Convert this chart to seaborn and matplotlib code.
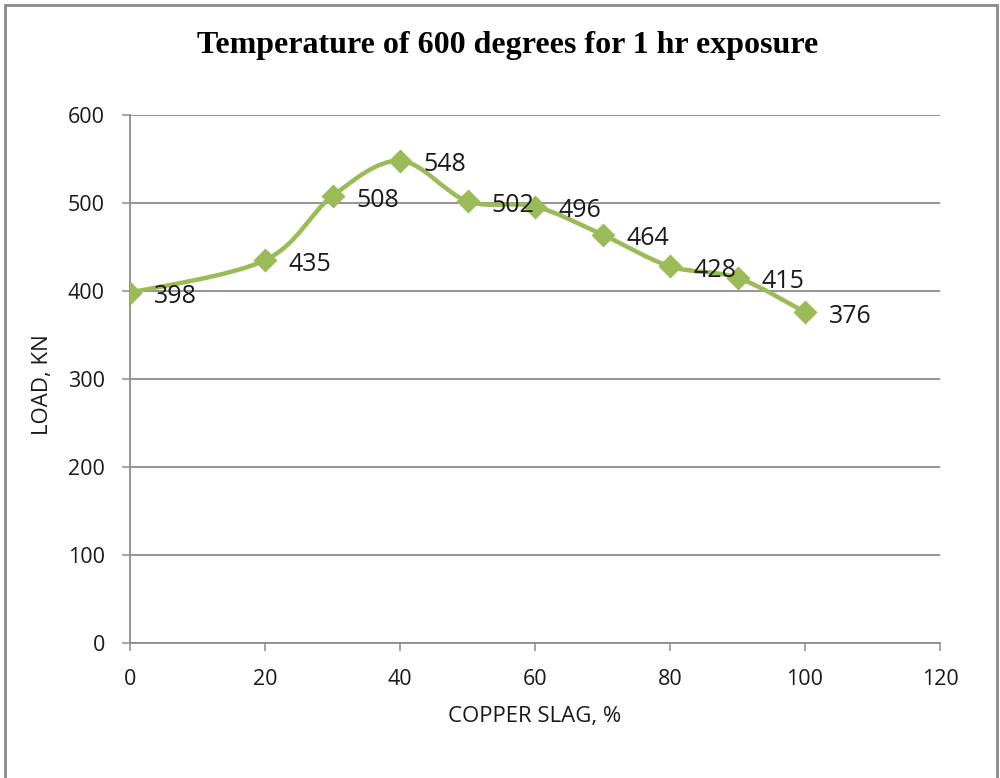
import numpy as np
import pandas as pd
import matplotlib
matplotlib.use("Agg")
import matplotlib.pyplot as plt
from matplotlib.path import Path
from matplotlib.patches import PathPatch, Rectangle
import seaborn as sns

# data
copper_slag = [0, 20, 30, 40, 50, 60, 70, 80, 90, 100]
load_kn = [398, 435, 508, 548, 502, 496, 464, 428, 415, 376]

x_ticks = [0, 20, 40, 60, 80, 100, 120]
y_ticks = [0, 100, 200, 300, 400, 500, 600]

title = "Temperature of 600 degrees for 1 hr exposure"
x_label = "COPPER SLAG, %"
y_label = "LOAD, KN"

green = "#9BBB59"
grid_grey = "#8C8C8C"

sns.set_style("white")
plt.rcParams["font.family"] = ["Open Sans", "DejaVu Sans"]

df = pd.DataFrame({"slag": copper_slag, "load": load_kn})

fig = plt.figure(figsize=(10, 7.78), dpi=100)
ax = fig.add_axes([0.13, 0.1735, 0.81, 0.6787])

ax.set_xlim(0, 120)
ax.set_ylim(0, 600)
ax.set_xticks(x_ticks)
ax.set_yticks(y_ticks)
ax.yaxis.grid(True, color=grid_grey, linewidth=1.3)
ax.set_axisbelow(True)


# Excel-style smoothed line: cubic Bezier segments (Catmull-Rom like)
def smooth_path(xs, ys, tension=1 / 6):
    pts = np.column_stack([xs, ys]).astype(float)
    n = len(pts)
    verts = [pts[0]]
    codes = [Path.MOVETO]
    for i in range(n - 1):
        p0 = pts[i - 1] if i > 0 else pts[i]
        p1 = pts[i]
        p2 = pts[i + 1]
        p3 = pts[i + 2] if i + 2 < n else pts[i + 1]
        c1 = p1 + (p2 - p0) * tension
        c2 = p2 - (p3 - p1) * tension
        verts += [c1, c2, p2]
        codes += [Path.CURVE4] * 3
    return Path(verts, codes)


ax.add_patch(PathPatch(smooth_path(copper_slag, load_kn), facecolor="none",
                       edgecolor=green, linewidth=3.2, capstyle="round",
                       joinstyle="round", zorder=3))

sns.scatterplot(data=df, x="slag", y="load", marker="D", s=150, color=green,
                edgecolor=green, linewidth=0, zorder=4, ax=ax, legend=False)

for xv, yv in zip(copper_slag, load_kn):
    ax.annotate(str(yv), (xv, yv), xytext=(17, -3), textcoords="offset points",
                ha="left", va="center", fontsize=18, color="#1a1a1a", zorder=5)

for side in ["top", "right"]:
    ax.spines[side].set_visible(False)
for side in ["left", "bottom"]:
    ax.spines[side].set_color(grid_grey)
    ax.spines[side].set_linewidth(1.3)

ax.tick_params(axis="both", direction="out", length=6, width=1.1,
               color=grid_grey, labelsize=15.5, labelcolor="#1a1a1a",
               left=True, bottom=True)
ax.tick_params(axis="y", pad=12)
ax.tick_params(axis="x", pad=13)

ax.set_xlabel(x_label, fontsize=16, color="#1a1a1a", va="center")
ax.set_ylabel(y_label, fontsize=16, color="#1a1a1a", va="center")
ax.xaxis.set_label_coords(0.5, -0.140)
ax.yaxis.set_label_coords(-0.1086, 0.49)

fig.text(0.508, 0.942, title, ha="center", va="center", color="black",
         fontsize=23, fontweight="bold", family="Liberation Serif")

# chart border as in the source
fig.patches.append(Rectangle((0.005, -0.02), 0.992, 1.013, transform=fig.transFigure,
                             fill=False, edgecolor="#8a8a8a", linewidth=2))

fig.savefig("out.png", dpi=100)
